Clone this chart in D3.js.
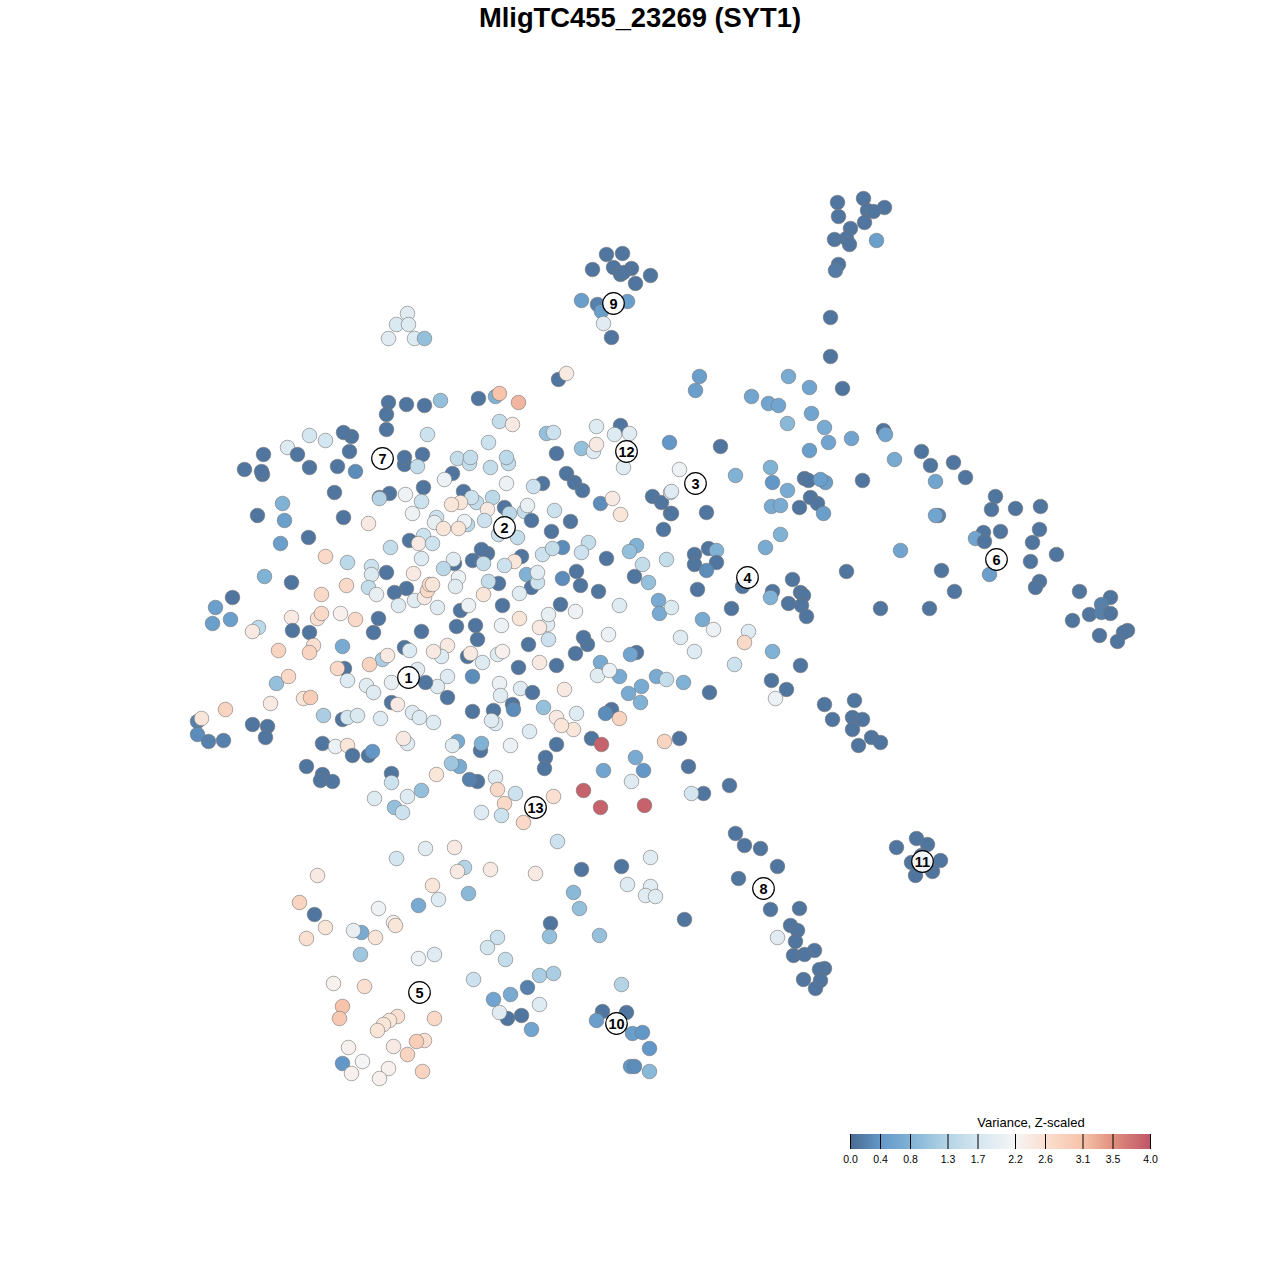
<!DOCTYPE html>
<html><head><meta charset="utf-8">
<script src="https://cdnjs.cloudflare.com/ajax/libs/d3/7.8.5/d3.min.js"></script>
<style>html,body{margin:0;background:#fff}svg{display:block}text{font-family:"Liberation Sans",Arial,sans-serif}</style>
</head><body><svg id="c" width="1280" height="1280"></svg>
<script>
const chartTitle = "MligTC455_23269 (SYT1)";
const legendTitle = "Variance, Z-scaled";
const legendTicks = [0.0,0.4,0.8,1.3,1.7,2.2,2.6,3.1,3.5,4.0];
const colorStops = ["#4a6a90","#6297c8","#80b2d5","#b4d4e6","#d4e6f0","#f5f5f5","#fbdfd0","#f7c3aa","#e0907e","#c05668"];
// each row: t-SNE x, t-SNE y, z-scaled variance
const topRightCells = [[863,198,.1],[884,207,.1],[837,202,.1],[867,210,.1],[873,211,.1],[838,216,.1],[864,222,.1],[850,228,.1],[834,239,.1],[846,238,.1],[849,244,.1],[876,240,.5],[838,264,.1],[835,270,.15],[830,317,.1],[830,356,.1],[842,388,.1]];
const cluster9Cells = [[606,254,.1],[622,253,.1],[613,267,.1],[631,268,.1],[592,269,.1],[620,274,.1],[623,272,.1],[650,275,.1],[635,283,.1],[581,300,.5],[597,304,.2],[627,301,.5],[601,311,.5],[603,323,1.9],[611,337,.1]];
const topLeftCells = [[407,313,1.9],[396,324,1.8],[408,324,1.85],[388,338,1.9],[414,338,1.85],[424,338,1.0]];
const upperRightCells = [[558,379,.1],[566,373,2.4],[699,376,.5],[695,390,.5],[788,376,.7],[809,387,.6],[751,396,.6],[768,403,.6],[778,405,.6],[811,413,.6],[787,423,.9],[824,427,.7],[851,438,.6],[828,442,.6],[883,430,.1],[885,434,.6],[809,450,.5],[720,446,.1],[669,442,.4]];
const westCells = [[388,402,.1],[406,404,.1],[424,405,.1],[386,414,.1],[386,429,.1],[427,434,1.6],[309,435,1.7],[325,440,1.7],[351,436,.1],[343,432,.1],[287,447,1.85],[297,454,.1],[263,454,.1],[349,451,.1],[244,469,.1],[262,474,.1],[261,471,.1],[309,467,.1],[337,466,.1],[355,471,.3],[404,464,.1],[404,457,.1],[422,454,.1],[417,466,1.5],[334,492,.1],[389,493,.1],[379,497,.1],[379,498,1.3],[405,494,2.1],[423,487,.1],[421,501,1.6],[282,503,.8],[412,513,2.1],[257,515,.1],[284,520,.5],[343,517,.1],[368,523,2.4],[423,535,1.6],[409,540,.1],[418,543,2.4],[390,547,1.5],[280,543,.5],[308,537,.1],[421,558,1.85],[325,556,2.7],[347,562,1.4],[371,566,1.6],[386,572,.1],[371,574,1.8],[413,573,2.4],[264,576,.8],[291,582,.1],[346,585,2.7],[368,587,1.5],[321,594,2.7],[376,594,2.0],[406,588,.1],[394,592,.1],[398,605,1.85],[414,600,1.9],[424,597,2.4],[427,590,2.7],[429,584,2.7],[232,597,.1],[215,607,.5],[212,623,.5],[230,619,.5],[291,617,2.4],[317,618,2.6],[321,613,2.7],[340,613,2.3],[355,619,2.7],[378,618,.1]];
const centerNorthCells = [[440,400,1.0],[478,398,.1],[495,396,.8],[499,393,3.1],[518,402,3.2],[499,421,1.5],[512,424,2.4],[546,433,1.0],[553,432,1.6],[488,442,1.6],[596,426,1.85],[620,425,.1],[614,434,1.85],[629,433,1.9],[581,448,1.0],[593,451,1.85],[596,444,2.4],[556,453,.1],[623,467,1.9],[457,458,1.5],[469,463,1.5],[470,457,1.5],[490,467,1.5],[508,463,1.5],[506,457,1.4],[452,473,.1],[444,479,2.05],[506,483,2.05],[542,483,.1],[533,486,1.6],[566,473,.1],[574,482,.1],[582,490,.1],[600,503,.3],[612,498,2.4],[620,514,2.5],[652,496,.1],[661,502,.1],[670,513,.1],[670,492,1.85],[663,529,.1],[463,491,.1],[476,502,1.5],[471,497,1.6],[460,502,2.5],[451,504,2.5],[492,497,1.4],[504,507,.1],[509,513,1.4],[524,511,1.5],[527,505,2.0],[487,509,2.4],[484,520,1.6],[531,520,.1],[554,510,1.6],[570,521,.1],[436,517,1.6],[434,522,2.0],[467,524,1.4],[464,521,2.05],[443,528,2.5],[458,528,2.5],[498,534,1.6],[517,537,1.5],[551,531,.1]];
const centerCells = [[432,543,1.6],[487,553,.1],[481,549,.1],[472,560,.1],[483,563,1.5],[521,556,.1],[514,561,2.5],[504,565,1.6],[542,554,1.6],[562,547,.3],[552,548,1.5],[588,542,1.5],[581,552,1.6],[606,558,.1],[636,545,.8],[629,551,1.0],[642,564,1.5],[634,576,.1],[648,582,1.0],[666,559,1.5],[454,563,.1],[453,559,1.9],[443,568,1.4],[458,577,2.05],[455,586,1.9],[432,584,2.5],[526,574,.8],[531,587,.1],[537,582,1.6],[537,572,1.9],[576,571,.1],[562,578,.3],[580,585,.1],[598,591,.1],[498,583,.1],[488,581,1.5],[483,594,2.5],[519,593,1.9],[460,610,.1],[468,605,2.05],[502,605,.1],[437,607,1.9],[560,604,.1],[575,611,2.1],[547,624,1.9],[548,614,2.0],[619,605,1.85],[658,600,.7],[659,613,.7],[671,607,1.8],[519,618,2.5],[456,626,.1],[475,625,.1],[477,639,.1],[501,625,2.05],[539,627,2.4],[548,639,1.6],[528,644,.1],[587,644,.1],[583,637,.1],[575,653,.1],[608,634,2.05],[636,652,.1],[630,654,.6],[447,645,2.4],[441,656,1.85],[467,656,.1],[470,653,2.4],[482,662,1.85],[497,654,1.9],[502,651,2.3],[518,667,.1],[539,662,2.4],[556,665,.1],[600,662,.7],[597,675,1.9],[619,676,.7],[609,670,2.05],[656,676,.7],[666,679,1.5],[641,686,.7],[628,693,.7],[640,702,.8],[564,689,2.4],[447,676,1.85],[437,686,1.9],[447,697,.1],[472,676,.3],[499,683,2.05],[500,695,1.9],[520,688,1.85],[532,692,.1]];
const southWestCells = [[292,630,.1],[309,632,.1],[258,627,1.4],[252,631,2.4],[373,632,.1],[421,631,.1],[278,650,2.8],[313,645,2.6],[309,652,2.8],[342,646,.7],[404,647,.1],[409,650,1.85],[433,651,2.4],[382,659,1.2],[387,655,2.4],[369,664,2.8],[344,668,.1],[337,668,2.7],[347,680,1.85],[366,685,1.9],[373,692,1.85],[391,682,2.0],[417,669,1.9],[425,682,.1],[276,683,1.0],[288,676,2.7],[303,698,2.5],[310,697,2.9],[270,703,2.4],[391,702,.1],[397,704,2.4],[225,709,2.8],[197,721,.2],[201,718,2.5],[197,734,.3],[208,741,.2],[223,740,.2],[252,724,.1],[267,726,.1],[265,737,.1],[323,715,1.2],[342,719,.1],[347,717,1.7],[357,715,1.8],[380,718,1.85],[412,712,1.85],[419,717,1.85],[433,722,1.85],[407,743,1.85],[403,738,2.4],[322,743,.1],[335,746,2.05],[347,745,2.5],[352,755,.1],[368,755,.1],[372,751,.4],[391,773,.1],[391,782,1.6],[306,766,.1],[322,774,.1],[320,780,.1],[332,781,.1],[374,798,1.85],[407,796,1.85],[421,790,1.0],[394,807,1.0],[402,812,1.6]];
const centerSouthCells = [[472,711,.1],[493,710,.1],[512,704,.1],[513,709,.3],[543,707,1.0],[495,723,1.9],[491,720,1.85],[556,717,2.4],[573,729,2.5],[561,725,2.5],[576,713,1.85],[611,709,.1],[605,713,.3],[619,718,2.8],[529,731,1.85],[510,745,2.05],[556,744,.1],[591,738,.1],[601,744,3.9],[664,741,2.8],[457,741,.7],[452,745,1.9],[480,750,.1],[481,743,.8],[545,757,.1],[544,768,.1],[635,757,.7],[643,770,.4],[603,770,.6],[631,781,1.85],[459,766,.7],[451,763,1.1],[436,774,2.5],[477,781,.1],[469,779,.2],[495,777,1.85],[497,789,2.7],[515,793,1.6],[583,790,3.9],[553,796,2.6],[504,803,2.7],[481,812,1.85],[501,815,1.6],[523,822,2.7],[600,807,3.9],[644,805,3.9],[557,841,1.6]];
const eastCells = [[679,469,2.1],[735,475,.8],[770,467,.8],[804,478,.1],[808,480,.1],[825,482,.5],[820,479,.5],[772,482,.4],[787,490,.7],[862,480,.1],[894,459,.7],[921,451,.1],[930,465,.1],[953,462,.1],[965,477,.1],[935,481,.6],[671,491,1.85],[706,512,.1],[671,513,.1],[810,497,.1],[817,503,.1],[799,507,.1],[771,506,.7],[780,505,.7],[823,513,.5],[938,515,.2],[935,515,.6],[995,496,.1],[991,509,.1],[1015,508,.1],[1040,506,.1],[1039,529,.1],[983,532,.1],[1000,531,.1],[975,538,.6],[984,541,.1],[1032,542,.1],[1056,554,.1],[1030,561,.1],[989,574,.5],[1039,581,.1],[1035,587,.1],[1079,591,.1],[1110,597,.1],[1101,604,.2],[1089,614,.1],[1101,612,.2],[1110,613,.1],[1072,620,.1],[1127,630,.1],[1123,632,.1],[1099,635,.1],[1117,641,.1]];
const midEastCells = [[780,534,.8],[765,547,.7],[900,550,.6],[846,571,.1],[941,570,.1],[954,591,.1],[929,608,.1],[880,608,.1],[694,554,.1],[708,548,.1],[716,550,.8],[694,564,.1],[716,562,.1],[706,570,.3],[697,589,.1],[742,586,.1],[772,591,.1],[792,579,.1],[800,592,.1],[803,595,.1],[770,597,.8],[788,603,.1],[801,605,.1],[806,616,.1],[731,608,.1],[702,619,.7],[713,629,2.05],[748,631,1.85],[744,642,2.7],[680,637,1.85],[694,651,1.85],[772,651,.8],[734,664,1.6],[800,665,.1],[771,680,.1],[786,689,.1],[775,698,2.05],[709,692,.1],[683,682,.8],[824,704,.1],[854,700,.1],[852,717,.1],[862,719,.1],[832,719,.1],[852,729,.1],[871,737,.1],[880,742,.1],[858,745,.1],[679,738,.1],[688,766,.1],[729,785,.1],[703,793,.1],[691,793,1.7]];
const cluster8Cells = [[735,833,.1],[744,845,.1],[760,848,.1],[777,866,.1],[738,878,.1],[770,909,.1],[799,908,.1],[790,925,.1],[797,930,.1],[777,937,1.9],[795,941,.1],[814,950,.1],[793,955,.1],[804,954,.1],[824,968,.1],[819,969,.1],[820,980,.1],[803,979,.1],[815,988,.1]];
const cluster11Cells = [[916,838,.1],[927,844,.1],[896,847,.1],[911,862,.1],[921,855,.1],[940,860,.1],[932,871,.1],[915,875,.1],[925,865,.1]];
const southCells = [[396,858,1.7],[425,848,1.9],[454,847,2.4],[464,867,1.3],[457,871,2.4],[490,869,2.4],[535,873,2.4],[581,869,.1],[621,866,.1],[650,857,1.9],[317,875,2.4],[432,885,2.5],[438,899,1.85],[468,893,.9],[573,892,.9],[627,884,1.85],[650,886,1.9],[645,895,1.9],[655,896,1.9],[299,902,2.8],[418,905,.7],[579,908,1.0],[378,908,2.1],[314,914,.1],[684,919,.1],[550,923,.1],[325,927,2.5],[393,922,2.3],[395,925,2.5],[361,932,.7],[353,930,2.0],[375,937,2.5],[306,938,2.6],[497,937,1.6],[549,936,1.0],[599,935,1.0],[487,947,1.7],[360,954,1.1],[434,954,1.85],[418,958,2.05],[505,959,1.5]];
const cluster5And10Cells = [[473,979,1.6],[539,975,1.2],[553,973,1.2],[333,983,2.3],[364,986,2.6],[621,984,1.3],[527,987,.2],[510,994,.7],[493,999,.6],[539,1004,1.85],[342,1006,3.1],[339,1018,3.0],[507,1018,.1],[499,1012,1.9],[521,1015,.1],[531,1029,.6],[602,1011,.1],[626,1012,.1],[596,1020,.5],[434,1018,2.7],[397,1016,2.6],[389,1020,2.5],[383,1024,2.5],[377,1030,2.5],[632,1033,.5],[642,1032,.4],[649,1048,.4],[424,1040,2.6],[416,1041,2.9],[393,1046,2.4],[348,1047,2.3],[407,1054,2.8],[342,1063,.4],[362,1061,2.2],[388,1068,2.3],[351,1073,2.3],[379,1078,2.3],[422,1071,2.8],[630,1066,.4],[634,1066,.3],[649,1071,.9]];
const clusterIds = ["1","2","3","4","5","6","7","8","9","10","11","12","13"];
const clusterX = [408,504,695,747,419,996,382,763,613,616,922,626,535];
const clusterY = [677,527,483,577,992,559,458,888,303,1023,861,451,807];

const cells = [].concat(topRightCells,cluster9Cells,topLeftCells,upperRightCells,westCells,centerNorthCells,centerCells,southWestCells,centerSouthCells,eastCells,midEastCells,cluster8Cells,cluster11Cells,southCells,cluster5And10Cells);
const svg = d3.select("#c");
const x = d3.scaleLinear().domain([0,1280]).range([0.5,1280.5]);
const y = d3.scaleLinear().domain([0,1280]).range([0.5,1280.5]);
const color = d3.scaleLinear().domain(legendTicks).range(colorStops).clamp(true);

svg.append("text").attr("x",640).attr("y",27).attr("text-anchor","middle")
  .attr("font-size",27.35).attr("font-weight","bold").attr("fill","#000").text(chartTitle);

svg.append("g").selectAll("circle").data(cells).join("circle")
  .attr("cx",d=>x(d[0])).attr("cy",d=>y(d[1])).attr("r",7.3)
  .attr("fill",d=>color(d[2])).attr("stroke","#777").attr("stroke-opacity",.6).attr("stroke-width",1);

const lab = svg.append("g").selectAll("g").data(clusterIds).join("g")
  .attr("transform",(d,i)=>`translate(${x(clusterX[i])},${y(clusterY[i])})`);
lab.append("circle").attr("r",10.8).attr("fill","#fff").attr("fill-opacity",.92).attr("stroke","#000").attr("stroke-width",1.2);
lab.append("text").attr("text-anchor","middle").attr("dy","0.36em").attr("font-size",14.5).attr("font-weight","bold").attr("fill","#000").text(d=>d);

// legend
const lx = d3.scaleLinear().domain([0,4]).range([850,1150]);
const defs = svg.append("defs");
const grad = defs.append("linearGradient").attr("id","lg");
grad.selectAll("stop").data(legendTicks).join("stop")
  .attr("offset",d=>d/4).attr("stop-color",d=>color(d));
svg.append("rect").attr("x",lx(0)).attr("y",1134).attr("width",lx(4)-lx(0)).attr("height",15).attr("fill","url(#lg)");
const ax = d3.axisBottom(lx).tickValues(legendTicks).tickFormat(d3.format(".1f")).tickSizeOuter(0).tickSizeInner(-15).tickPadding(7);
const g = svg.append("g").attr("transform","translate(0,1149)").call(ax);
g.select(".domain").remove();
g.selectAll(".tick line").attr("stroke","#000").attr("stroke-width",1);
g.selectAll(".tick text").attr("font-size",10.5).attr("fill","#000").attr("font-family",'"Liberation Sans",Arial,sans-serif').attr("dy","0.71em");
svg.append("text").attr("x",1031).attr("y",1127).attr("text-anchor","middle").attr("font-size",13).attr("fill","#000").text(legendTitle);
</script></body></html>
